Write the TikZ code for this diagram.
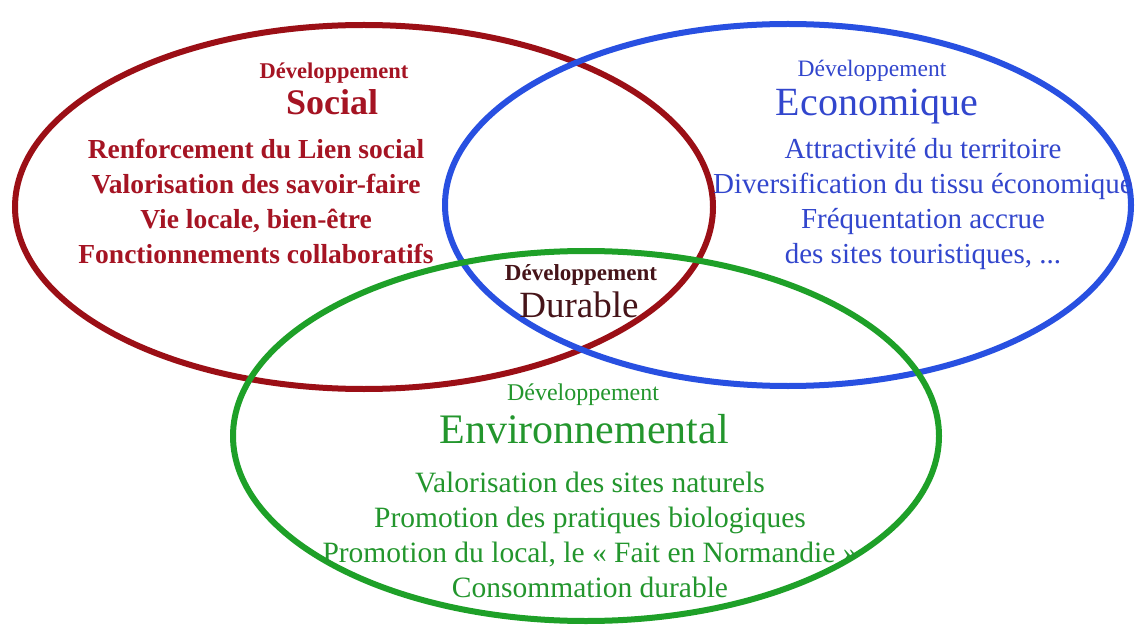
\documentclass[tikz,border=0pt]{standalone}
\usepackage{fontspec}
\setmainfont{Liberation Serif}
\usetikzlibrary{shapes.geometric}
\definecolor{socred}{RGB}{165,20,35}
\definecolor{socline}{RGB}{155,15,22}
\definecolor{ecoblue}{RGB}{50,70,205}
\definecolor{ecoline}{RGB}{40,80,225}
\definecolor{envgreen}{RGB}{35,150,45}
\definecolor{envline}{RGB}{30,160,40}
\definecolor{durbrown}{RGB}{70,20,25}
\tikzset{
  ring/.style={ellipse, draw, line width=6pt, inner sep=0pt, fill=none},
  label/.style={inner sep=0pt},
  items/.style={align=center, inner sep=0pt},
}
\begin{document}
\begin{tikzpicture}[x=1pt,y=-1pt]
\useasboundingbox[fill=white] (0,0) rectangle (1137,628);
\node[ring, draw=socline, minimum width=698pt, minimum height=364pt] (socring) at (364,207) {};
\node[ring, draw=ecoline, minimum width=686pt, minimum height=362pt] (ecoring) at (788,205) {};
\node[ring, draw=envline, minimum width=706pt, minimum height=370pt] (envring) at (586,436) {};

\node[label, text=socred, font=\bfseries\fontsize{22.5}{24}\selectfont] (socdev) at (334,73) {Développement};
\node[label, text=socred, font=\bfseries\fontsize{36}{38}\selectfont] (soctitle) at (332,102) {Social};
\node[items, text=socred, font=\bfseries\fontsize{27.5}{35}\selectfont] (socitems) at (256,201) {Renforcement du Lien social\\Valorisation des savoir-faire\\Vie locale, bien-être\\Fonctionnements collaboratifs};

\node[label, text=ecoblue, font=\fontsize{23.5}{25}\selectfont] (ecodev) at (872,71) {Développement};
\node[label, text=ecoblue, font=\fontsize{40}{42}\selectfont] (ecotitle) at (877,107) {Economique};
\node[items, text=ecoblue, font=\fontsize{29}{35}\selectfont] (ecoitems) at (923,204) {Attractivité du territoire\\Diversification du tissu économique\\Fréquentation accrue\\des sites touristiques, ...};

\node[label, text=durbrown, font=\bfseries\fontsize{23}{25}\selectfont] (durdev) at (581,275) {Développement};
\node[label, text=durbrown, font=\fontsize{37}{39}\selectfont] (durtitle) at (579,305) {Durable};

\node[label, text=envgreen, font=\fontsize{24}{26}\selectfont] (envdev) at (583,395) {Développement};
\node[label, text=envgreen, font=\fontsize{42}{44}\selectfont] (envtitle) at (584,429) {Environnemental};
\node[items, text=envgreen, font=\fontsize{29.5}{35}\selectfont] (envitems) at (590,535) {Valorisation des sites naturels\\Promotion des pratiques biologiques\\Promotion du local, le « Fait en Normandie »\\Consommation durable};
\end{tikzpicture}
\end{document}
